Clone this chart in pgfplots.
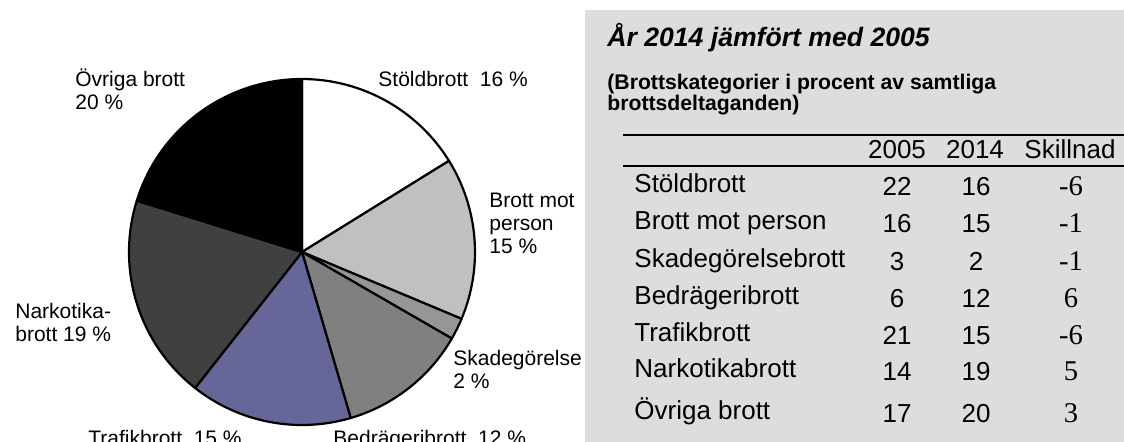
\documentclass[border=0pt]{standalone}
\usepackage{pgfplots}
\pgfplotsset{compat=1.18}
\usepackage{pgfplotstable}
\usepackage{fontspec}
\setmainfont{Liberation Sans}
\newfontfamily\timesfont{Liberation Serif}

\definecolor{gbox}{HTML}{DDDDDD}
\definecolor{cA}{HTML}{FFFFFF}
\definecolor{cB}{HTML}{C0C0C0}
\definecolor{cC}{HTML}{969696}
\definecolor{cD}{HTML}{808080}
\definecolor{cE}{HTML}{666699}
\definecolor{cF}{HTML}{404040}
\definecolor{cG}{HTML}{000000}

% Share of 2014 (percent), clockwise from the top
\pgfplotstableread{
idx value col
0 16 cA
1 15 cB
2 2  cC
3 12 cD
4 15 cE
5 19 cF
6 20 cG
}\piedata

\begin{document}
\begin{tikzpicture}[x=0.5pt,y=-0.5pt]
\useasboundingbox (0,0) rectangle (1124,441);
\clip (0,0) rectangle (1124,441);
% precompute slice angles from the table
\gdef\pietotal{0}
\foreach \i in {0,...,6}{
  \pgfplotstablegetelem{\i}{value}\of\piedata
  \pgfmathsetmacro\tmpt{\pietotal+\pgfplotsretval}
  \global\let\pietotal\tmpt
}
\pgfmathsetmacro\degper{360/\pietotal}
\global\let\degper\degper
\gdef\piecum{0}
\gdef\slicelist{}
\foreach \i in {0,...,6}{
  \pgfplotstablegetelem{\i}{value}\of\piedata \let\pv\pgfplotsretval
  \pgfplotstablegetelem{\i}{col}\of\piedata \let\pcol\pgfplotsretval
  \pgfmathsetmacro\angs{90-\degper*\piecum}
  \pgfmathsetmacro\ange{90-\degper*(\piecum+\pv)}
  \ifx\slicelist\empty
    \xdef\slicelist{\angs/\ange/\pcol}
  \else
    \xdef\slicelist{\slicelist,\angs/\ange/\pcol}
  \fi
  \pgfmathsetmacro\tmpc{\piecum+\pv}
  \global\let\piecum\tmpc
}

% grey panel
\fill[gbox] (585,10) rectangle (1124,445);

\begin{axis}[
  at={(0,0)}, anchor=north west,
  x=0.5pt, y=0.5pt, y dir=reverse,
  xmin=0, xmax=1124, ymin=0, ymax=441,
  hide axis, clip=false,
]
\pgfplotsextra{
  \pgfkeys{/pgf/fpu=false}
  \foreach \sa/\se/\sc in \slicelist {
    \filldraw[draw=black, line width=1.1pt, line join=round, fill=\sc]
      (axis cs:302,252) -- ++(\sa:86.5pt) arc[start angle=\sa, end angle=\se, radius=86.5pt] -- cycle;
  }
}
\end{axis}

% pie labels
\begin{scope}[every node/.style={anchor=base west, inner sep=0pt, font=\fontsize{10.5}{12}\selectfont}]
\node at (75,86) {Övriga brott};
\node at (75,109) {20 \%};
\node at (378,86) {Stöldbrott\ \ 16 \%};
\node at (489,207) {Brott mot};
\node at (489,230) {person};
\node at (489,253) {15 \%};
\node at (15,318) {Narkotika-};
\node at (15,341) {brott 19 \%};
\node at (453,365) {Skadegörelse};
\node at (453,388) {2 \%};
\node at (88,445) {Trafikbrott\ \ 15 \%};
\node at (333,445) {Bedrägeribrott\ \ 12 \%};
\end{scope}

% table panel
\node[anchor=base west, inner sep=0pt, font=\fontsize{13.3}{16}\selectfont\bfseries\itshape] at (607,46.7) {År 2014 jämfört med 2005};
\begin{scope}[every node/.style={anchor=base west, inner sep=0pt, font=\fontsize{10.6}{12}\selectfont\bfseries}]
\node at (607,89) {(Brottskategorier i procent av samtliga};
\node at (607,110) {brottsdeltaganden)};
\end{scope}
\draw[line width=1pt] (623,135) -- (1124,135);
\draw[line width=1pt] (623,166) -- (1124,166);

\begin{scope}[every node/.style={anchor=base, inner sep=0pt, font=\fontsize{13}{15}\selectfont}]
\node at (897,158.3) {2005};
\node at (975,158.3) {2014};
\node at (1070,158.3) {Skillnad};
\end{scope}

\begin{scope}[every node/.style={inner sep=0pt, font=\fontsize{13}{15}\selectfont}]
\foreach \lab/\va/\vb/\vc/\yy in {
  Stöldbrott/22/16/-6/192.5,
  Brott mot person/16/15/-1/229.5,
  Skadegörelsebrott/3/2/-1/267,
  Bedrägeribrott/6/12/6/304,
  Trafikbrott/21/15/-6/341,
  Narkotikabrott/14/19/5/377.5,
  Övriga brott/17/20/3/419}{
  \node[anchor=base west] at (634,\yy) {\lab};
  \node[anchor=base] at (897,\yy+3) {\va};
  \node[anchor=base] at (976,\yy+3) {\vb};
  \node[anchor=base, font=\fontsize{14.3}{16}\selectfont\timesfont] at (1071,\yy+3) {\vc};
}
\end{scope}
\end{tikzpicture}
\end{document}
